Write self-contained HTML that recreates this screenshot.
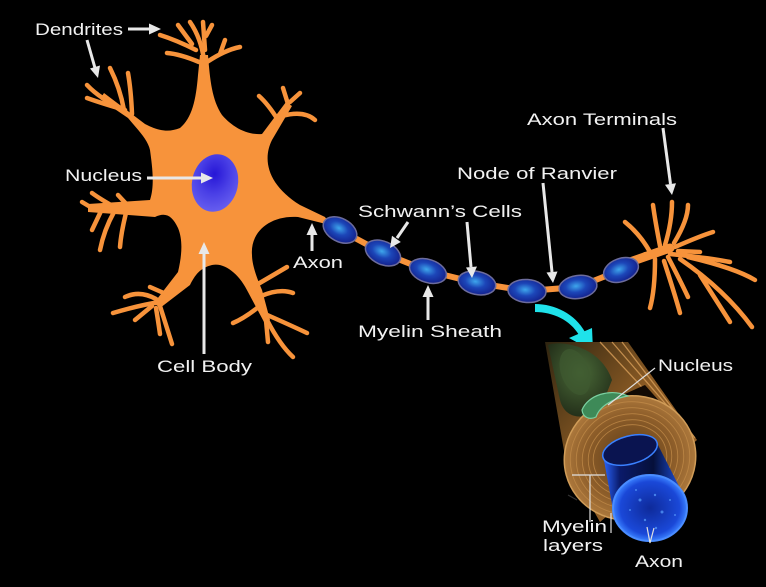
<!DOCTYPE html>
<html><head><meta charset="utf-8"><style>
html,body{margin:0;padding:0;background:#000;}
svg{display:block;}
text{font-family:"Liberation Sans",Arial,sans-serif;fill:#f2f2f2;}
</style></head><body>
<svg width="766" height="587" viewBox="0 0 766 587" xmlns="http://www.w3.org/2000/svg">
<defs>
<radialGradient id="nuc" cx="0.45" cy="0.35" r="0.7">
<stop offset="0" stop-color="#2616d6"/><stop offset="0.5" stop-color="#4a40e6"/><stop offset="1" stop-color="#6a62f0"/>
</radialGradient>
<radialGradient id="ov" cx="0.45" cy="0.45" r="0.6">
<stop offset="0" stop-color="#3ea6ec"/><stop offset="0.45" stop-color="#1c46b8"/><stop offset="1" stop-color="#121c88"/>
</radialGradient>
<linearGradient id="tube" x1="0" y1="0" x2="1" y2="1">
<stop offset="0" stop-color="#2e2410"/><stop offset="0.45" stop-color="#8a5a24"/><stop offset="1" stop-color="#9a642a"/>
</linearGradient>
<radialGradient id="face" cx="0.5" cy="0.5" r="0.5">
<stop offset="0" stop-color="#5a3a16"/><stop offset="0.7" stop-color="#8e5e2a"/><stop offset="1" stop-color="#ac783c"/>
</radialGradient>
<linearGradient id="cyl" x1="0" y1="0" x2="1" y2="0">
<stop offset="0" stop-color="#2a66ff"/><stop offset="0.2" stop-color="#0a1a6a"/><stop offset="0.6" stop-color="#06103a"/><stop offset="0.9" stop-color="#1a4ad0"/><stop offset="1" stop-color="#3a7aff"/>
</linearGradient>
<radialGradient id="cface" cx="0.5" cy="0.5" r="0.5">
<stop offset="0" stop-color="#0e2a9a"/><stop offset="0.8" stop-color="#1a48d8"/><stop offset="1" stop-color="#3a80ff"/>
</radialGradient>
<radialGradient id="grn" cx="0.5" cy="0.4" r="0.6">
<stop offset="0" stop-color="#4a6a38"/><stop offset="1" stop-color="#24301a"/>
</radialGradient>
</defs>

<!-- Neuron body -->
<g fill="#f7933b" stroke="none">
<path d="M180,128 C192,118 196,100 198,75 L200,55 L208,55 C210,80 212,100 222,115 C235,130 250,135 262,134 L286,102 L292,106 L272,140 C262,160 268,185 300,205 L325,217 L330,225 L298,217 C270,215 250,232 252,255 C252,264 256,276 262,290 L270,320 L264,322 L248,292 C240,275 225,262 212,265 C200,268 195,275 190,285 L160,308 L154,303 L178,272 C182,255 183,240 178,228 C172,215 165,212 155,217 L88,212 L88,204 L150,200 C155,185 152,165 150,150 C148,140 138,130 128,118 L100,99 L104,93 L145,124 C160,132 170,132 180,128 Z"/>
</g>
<g fill="none" stroke="#f7933b" stroke-width="4.5" stroke-linecap="round" stroke-linejoin="round">
<path d="M204,60 Q201,38 190,22"/>
<path d="M196,50 Q176,40 160,35"/>
<path d="M192,44 L178,25"/>
<path d="M205,50 L203,22"/>
<path d="M206,36 L212,25"/>
<path d="M207,62 Q225,50 240,47"/>
<path d="M220,54 L225,40"/>
<path d="M199,62 Q180,54 167,53"/>
<path d="M125,110 Q100,99 87,85"/>
<path d="M118,108 Q98,102 87,98"/>
<path d="M124,110 Q120,88 110,68"/>
<path d="M132,114 Q131,90 128,73"/>
<path d="M278,120 Q268,104 259,96"/>
<path d="M288,104 L283,88"/>
<path d="M290,102 L300,93"/>
<path d="M282,116 Q304,110 315,120"/>
<path d="M118,209 Q100,199 92,193"/>
<path d="M130,208 L118,195"/>
<path d="M114,212 Q104,230 100,250"/>
<path d="M126,213 Q121,233 120,247"/>
<path d="M102,209 L92,230"/>
<path d="M92,208 L82,202"/>
<path d="M160,302 Q140,305 113,313"/>
<path d="M156,299 Q140,290 125,297"/>
<path d="M166,294 L150,287"/>
<path d="M152,306 L135,320"/>
<path d="M156,308 Q158,320 160,334"/>
<path d="M160,306 Q166,325 172,344"/>
<path d="M261,305 Q245,318 233,323"/>
<path d="M267,320 Q280,345 293,357"/>
<path d="M265,314 Q290,325 307,333"/>
<path d="M261,296 Q280,288 293,293"/>
<path d="M258,284 Q275,274 287,267"/>
<path d="M266,320 L268,342"/>
<path d="M325,221 L340,230 L383,253 L428,271 L477,283 L527,291 L578,287 L621,270 L645,255" stroke-width="6"/>
<path d="M630,262 L670,248" stroke-width="9"/>
<path d="M650,252 Q640,234 625,222"/>
<path d="M660,246 Q655,220 653,205"/>
<path d="M665,245 Q672,222 672,202"/>
<path d="M674,243 Q688,220 688,205"/>
<path d="M675,247 Q700,236 713,232"/>
<path d="M678,251 L700,252"/>
<path d="M670,254 Q710,258 730,262"/>
<path d="M688,257 Q735,268 755,280"/>
<path d="M680,259 Q725,290 752,327"/>
<path d="M700,275 L730,322"/>
<path d="M668,257 Q680,280 688,297"/>
<path d="M655,259 Q655,290 650,308"/>
<path d="M664,261 Q675,295 680,313"/>
</g>

<ellipse cx="215" cy="183" rx="23" ry="29" transform="rotate(12 215 183)" fill="url(#nuc)"/>

<g fill="url(#ov)" stroke="#6c6c9c" stroke-width="1.5">
<ellipse cx="340" cy="230" rx="18" ry="11.5" transform="rotate(28 340 230)"/>
<ellipse cx="383" cy="253" rx="18.5" ry="11.5" transform="rotate(24 383 253)"/>
<ellipse cx="428" cy="271" rx="19" ry="11.5" transform="rotate(18 428 271)"/>
<ellipse cx="477" cy="283" rx="19" ry="11.5" transform="rotate(12 477 283)"/>
<ellipse cx="527" cy="291" rx="19" ry="11.5" transform="rotate(4 527 291)"/>
<ellipse cx="578" cy="287" rx="19" ry="11.5" transform="rotate(-8 578 287)"/>
<ellipse cx="621" cy="270" rx="18" ry="11.5" transform="rotate(-20 621 270)"/>
</g>

<g stroke="#e8e8e8" stroke-width="3" fill="none">
<line x1="128" y1="29" x2="150" y2="29"/>
<line x1="87" y1="40" x2="95" y2="68"/>
<line x1="147" y1="178" x2="202" y2="178"/>
<line x1="204" y1="354" x2="204" y2="253"/>
<line x1="312" y1="251" x2="312" y2="234"/>
<line x1="408" y1="222" x2="397" y2="238"/>
<line x1="467" y1="222" x2="471" y2="267"/>
<line x1="428" y1="320" x2="428" y2="296"/>
<line x1="543" y1="183" x2="552" y2="272"/>
<line x1="663" y1="128" x2="670.5" y2="184"/>
</g>
<g fill="#e8e8e8">
<polygon points="161,29 149,23.5 149,34.5"/>
<polygon points="98,78 90,68.5 100,65.5"/>
<polygon points="213,178 201,172.5 201,183.5"/>
<polygon points="204,242 198.5,254 209.5,254"/>
<polygon points="312,223 306.5,235 317.5,235"/>
<polygon points="390,248 400.8,242 392,235.8"/>
<polygon points="472,278 477,266.5 466,267.5"/>
<polygon points="428,285 422.5,297 433.5,297"/>
<polygon points="553,283 557.5,271.5 546.5,272.5"/>
<polygon points="672,195 676,183.3 665,184.8"/>
</g>

<path d="M535,304 C555,304 575,314 585,332 L579,335 C570,320 553,312 535,312 Z" fill="#1fe2ea"/>
<polygon points="569,338 592,328 593,351" fill="#1fe2ea"/>

<path d="M545,342 L628,342 L697,440 L600,522 L566,462 Z" fill="url(#tube)"/>
<path d="M600,342 L680,428 M612,342 L690,432 M622,342 L695,438" stroke="#d29a56" stroke-width="1.3" fill="none" opacity="0.85"/>
<path d="M548,345 C560,340 600,345 612,380 L600,410 C585,420 565,420 560,400 Z" fill="url(#grn)"/>
<ellipse cx="575" cy="372" rx="14" ry="24" transform="rotate(-20 575 372)" fill="#3e5a30" opacity="0.7"/>
<path d="M620,396 L668,411 L645,385 Z" fill="#120a04"/>
<ellipse cx="630" cy="458" rx="66" ry="62" transform="rotate(-15 630 458)" fill="url(#face)" stroke="#d09c58" stroke-width="1.5"/>
<g fill="none" stroke="#c08a48" stroke-width="0.9" opacity="0.8">
<ellipse cx="630" cy="458" rx="60" ry="56" transform="rotate(-15 630 458)"/>
<ellipse cx="630" cy="458" rx="54" ry="50" transform="rotate(-15 630 458)"/>
<ellipse cx="630" cy="458" rx="48" ry="44" transform="rotate(-15 630 458)"/>
<ellipse cx="630" cy="458" rx="42" ry="38" transform="rotate(-15 630 458)"/>
<ellipse cx="630" cy="458" rx="37" ry="33" transform="rotate(-15 630 458)"/>
</g>
<path d="M582,410 C588,395 610,388 628,396 C615,398 600,405 596,417 C590,420 583,418 582,410 Z" fill="#3e8a58" stroke="#7ad0a0" stroke-width="1.2"/>
<path d="M603,455 L657,443 L687,502 L614,515 Z" fill="url(#cyl)"/>
<ellipse cx="630" cy="450" rx="28" ry="14" transform="rotate(-15 630 450)" fill="#0a1450" stroke="#3a80ff" stroke-width="1.5"/>
<ellipse cx="650" cy="508" rx="37" ry="33" fill="url(#cface)" stroke="#4a8cff" stroke-width="2"/>
<g fill="#5aa0ff" opacity="0.7">
<circle cx="640" cy="500" r="1.5"/><circle cx="655" cy="495" r="1.2"/><circle cx="662" cy="512" r="1.5"/><circle cx="645" cy="520" r="1.2"/><circle cx="630" cy="510" r="1"/><circle cx="670" cy="500" r="1"/><circle cx="656" cy="528" r="1.2"/><circle cx="636" cy="490" r="1"/><circle cx="675" cy="515" r="1"/>
</g>
<g stroke="#e0e0e0" stroke-width="1.2" fill="none">
<line x1="655" y1="368" x2="608" y2="405"/>
<polyline points="572,475 605,475"/>
<line x1="590" y1="475" x2="590" y2="522"/>
<line x1="611" y1="513" x2="611" y2="533"/>
<polyline points="647,527 650,543 654,528"/>
</g>
<line x1="568" y1="495" x2="577" y2="500" stroke="#333" stroke-width="1.2"/>

<g font-size="17">
<text x="35" y="35" textLength="88" lengthAdjust="spacingAndGlyphs">Dendrites</text>
<text x="65" y="181" textLength="77" lengthAdjust="spacingAndGlyphs">Nucleus</text>
<text x="157" y="372" textLength="95" lengthAdjust="spacingAndGlyphs">Cell Body</text>
<text x="293" y="268" textLength="50" lengthAdjust="spacingAndGlyphs">Axon</text>
<text x="358" y="217" textLength="164" lengthAdjust="spacingAndGlyphs">Schwann’s Cells</text>
<text x="358" y="337" textLength="144" lengthAdjust="spacingAndGlyphs">Myelin Sheath</text>
<text x="457" y="179" textLength="160" lengthAdjust="spacingAndGlyphs">Node of Ranvier</text>
<text x="527" y="125" textLength="150" lengthAdjust="spacingAndGlyphs">Axon Terminals</text>
<text x="658" y="371" textLength="75" lengthAdjust="spacingAndGlyphs">Nucleus</text>
<text x="542" y="532" textLength="65" lengthAdjust="spacingAndGlyphs">Myelin</text>
<text x="543" y="551" textLength="60" lengthAdjust="spacingAndGlyphs">layers</text>
<text x="635" y="567" textLength="48" lengthAdjust="spacingAndGlyphs">Axon</text>
</g>
</svg>
</body></html>
